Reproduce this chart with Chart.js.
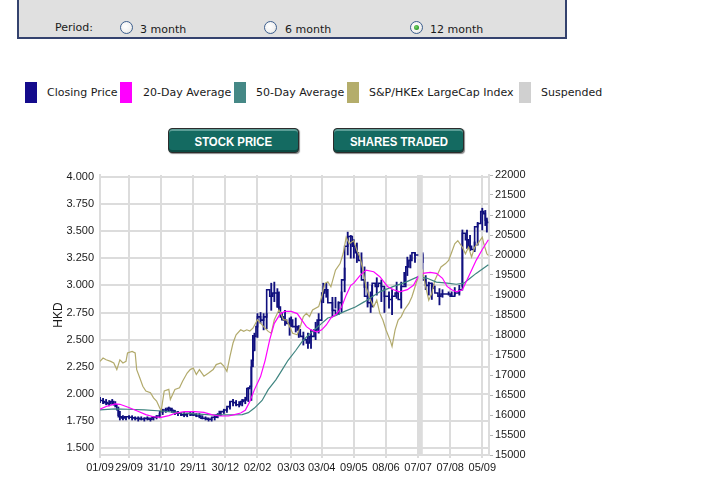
<!DOCTYPE html>
<html>
<head>
<meta charset="utf-8">
<script src="https://cdn.jsdelivr.net/npm/chart.js@4.4.0/dist/chart.umd.min.js"></script>
<style>
  html,body{margin:0;padding:0;background:#fff;}
  body{width:727px;height:495px;overflow:hidden;position:relative;font-family:"DejaVu Sans",Verdana,sans-serif;font-size:11px;color:#1a1a1a;}
  .abs{position:absolute;white-space:nowrap;line-height:13px;}
  #panel{position:absolute;left:17px;top:-4px;width:546px;height:39px;background:#e0e0e0;border:2px solid #34426e;}
  .radio{position:absolute;width:11px;height:11px;border-radius:50%;border:1px solid #3d5f8f;background:radial-gradient(circle at 40% 40%,#ffffff 0%,#f2f2f2 55%,#d6d6d0 100%);}
  .radio.on::after{content:"";position:absolute;left:3px;top:3px;width:5px;height:5px;border-radius:50%;background:radial-gradient(circle at 40% 40%,#7ad36a 0%,#2a9a2a 70%,#1f7d1f 100%);}
  .sw{position:absolute;top:82px;width:12px;height:21px;}
  .btn{position:absolute;top:128px;width:129px;height:23px;background:#146a61;border:1px solid #2c2c2c;border-radius:4px;
       box-shadow:inset 0 2px 0 #5c9d96, inset 0 -2px 0 #0b4a43, 1px 1px 1px #8a8a8a;color:#fff;text-align:center;
       font-family:"Liberation Sans",Arial,sans-serif;font-weight:bold;font-size:13px;line-height:26px;}
  .btn span{display:inline-block;transform:scaleX(0.875);transform-origin:center;}
  #c{position:absolute;left:40px;top:160px;}
</style>
</head>
<body>
<div id="panel"></div>
<div class="abs" style="left:55px;top:21px;">Period:</div>
<div class="radio" style="left:120px;top:21px;"></div>
<div class="abs" style="left:140px;top:23px;">3 month</div>
<div class="radio" style="left:264px;top:21px;"></div>
<div class="abs" style="left:285px;top:23px;">6 month</div>
<div class="radio on" style="left:410px;top:21px;"></div>
<div class="abs" style="left:430px;top:23px;">12 month</div>

<div class="sw" style="left:25px;background:#140b8c;"></div>
<div class="abs" style="left:47px;top:86px;">Closing Price</div>
<div class="sw" style="left:120px;background:#ff00ff;"></div>
<div class="abs" style="left:143px;top:86px;">20-Day Average</div>
<div class="sw" style="left:234px;background:#458886;"></div>
<div class="abs" style="left:256px;top:86px;">50-Day Average</div>
<div class="sw" style="left:347px;background:#b4ad6b;"></div>
<div class="abs" style="left:369px;top:86px;">S&amp;P/HKEx LargeCap Index</div>
<div class="sw" style="left:519px;background:#d0d0d0;"></div>
<div class="abs" style="left:541px;top:86px;">Suspended</div>

<div class="btn" style="left:168px;"><span>STOCK PRICE</span></div>
<div class="btn" style="left:333px;"><span>SHARES TRADED</span></div>

<canvas id="c" width="520" height="320"></canvas>

<script>
// ---- data (x = trading-day index from 01/09) ----
const tickDays   = [0, 19, 40, 61, 82, 103, 125, 145, 166, 187, 208, 229, 250];
const tickLabels = ['01/09','29/09','31/10','29/11','30/12','02/02','03/03','03/04','09/05','08/06','07/07','07/08','05/09'];
const priceTicks = [1.5, 1.75, 2.0, 2.25, 2.5, 2.75, 3.0, 3.25, 3.5, 3.75, 4.0];
const indexTicks = [15000,15500,16000,16500,17000,17500,18000,18500,19000,19500,20000,20500,21000,21500,22000];
const suspendedDays = [208.2, 211.1];

// closing price [day, close]
const closingPrice = [[0,1.95],[2,1.94],[3,1.93],[5,1.92],[7,1.91],[9,1.93],[11,1.90],[12,1.855],[14,1.79],[16,1.78],
  [19,1.79],[21,1.785],[23,1.78],[26,1.775],[29,1.77],[32,1.775],[34,1.767],[37,1.785],[39,1.797],[41,1.837],
  [44,1.852],[46,1.868],[48,1.85],[50,1.83],[53,1.822],[57,1.807],[60,1.82],[63,1.807],[66,1.797],[70,1.777],
  [73,1.767],[76,1.785],[78,1.807],[81,1.837],[83,1.852],[85,1.883],[87,1.93],[89,1.92],[92,1.90],[94,1.93],
  [96,1.944],[98,2.05],[99,2.07],[100,2.31],[101,2.40],[102,2.53],[103,2.62],[105,2.71],[107,2.68],[109,2.71],
  [111,2.96],[113,2.90],[116,2.93],[118,2.80],[120,2.71],[122,2.68],[124,2.65],[126,2.68],[129,2.62],[131,2.59],
  [133,2.53],[135,2.50],[137,2.47],[140,2.53],[142,2.59],[145,2.68],[147,2.93],[149,2.96],[152,2.84],[154,2.77],
  [156,2.74],[158,2.84],[160,3.05],[162,3.36],[165,3.45],[167,3.36],[169,3.30],[171,3.23],[173,3.05],[175,2.90],
  [178,2.84],[180,3.02],[182,2.99],[184,3.02],[186,2.99],[189,2.90],[191,2.87],[193,2.90],[195,2.93],[197,2.87],
  [200,2.99],[202,3.17],[204,3.23],[206,3.30],[208,3.28],[211,3.28],[213,3.05],[215,3.00],[217,3.02],[219,2.99],
  [221,2.93],[223,2.90],[226,2.92],[229,2.92],[232,2.90],[235,2.93],[237,2.96],[239,3.48],[241,3.42],[243,3.36],
  [245,3.33],[247,3.54],[249,3.57],[251,3.68],[252,3.66],[253,3.60],[254,3.58]];

// daily low-high range [day, low, high]
const dailyRange = [[0,1.92,1.97],[2,1.91,1.96],[4,1.90,1.95],[6,1.89,1.94],[8,1.90,1.95],[10,1.88,1.93],[12,1.80,1.88],
  [13,1.76,1.84],[15,1.76,1.80],[17,1.76,1.79],[19,1.77,1.80],[21,1.76,1.80],[23,1.76,1.79],[25,1.75,1.79],[27,1.76,1.79],
  [29,1.75,1.78],[31,1.76,1.79],[33,1.75,1.78],[35,1.76,1.79],[37,1.77,1.80],[39,1.78,1.82],[41,1.81,1.86],[43,1.83,1.87],
  [45,1.84,1.88],[47,1.83,1.87],[49,1.81,1.85],[51,1.80,1.84],[53,1.80,1.83],[55,1.79,1.83],[57,1.79,1.82],[59,1.80,1.83],
  [61,1.80,1.84],[63,1.79,1.82],[65,1.78,1.82],[67,1.77,1.80],[69,1.76,1.79],[71,1.75,1.78],[73,1.75,1.78],[75,1.76,1.80],
  [77,1.78,1.82],[79,1.80,1.84],[81,1.82,1.86],[83,1.83,1.87],[85,1.86,1.93],[87,1.89,1.95],[89,1.89,1.94],[91,1.88,1.93],
  [93,1.89,1.95],[95,1.91,1.97],[97,1.93,2.06],[99,1.94,2.25],[100,2.25,2.54],[101,2.40,2.56],[103,2.52,2.74],
  [105,2.65,2.75],[107,2.59,2.74],[109,2.60,2.74],[112,2.77,3.02],[114,2.85,3.03],[116,2.80,2.97],[117,2.75,2.94],
  [119,2.68,2.75],[121,2.63,2.77],[124,2.54,2.70],[125,2.62,2.71],[128,2.57,2.70],[130,2.52,2.63],[133,2.45,2.57],
  [136,2.42,2.56],[138,2.42,2.59],[141,2.50,2.66],[143,2.56,2.74],[146,2.84,3.02],[148,2.89,3.02],[152,2.71,2.89],
  [154,2.79,2.89],[156,2.73,2.85],[158,2.75,2.94],[160,2.94,3.16],[162,3.28,3.49],[164,3.25,3.46],[166,3.25,3.42],
  [168,3.21,3.39],[171,3.12,3.30],[173,2.98,3.17],[175,2.80,3.03],[177,2.75,2.94],[178,2.80,3.00],[181,2.91,3.07],
  [184,2.85,3.05],[186,2.75,2.97],[189,2.79,2.94],[191,2.73,2.96],[194,2.88,3.03],[197,2.79,3.03],[199,3.00,3.12],
  [201,3.09,3.26],[203,3.16,3.28],[206,3.21,3.30],[211,3.21,3.30],[213,2.96,3.09],[215,2.91,3.03],[217,2.87,3.02],
  [218,2.97,3.01],[222,2.82,2.97],[224,2.89,2.96],[228,2.91,2.94],[230,2.90,2.94],[232,2.91,2.98],[235,2.91,3.00],
  [237,2.99,3.51],[240,3.34,3.51],[242,3.32,3.46],[245,3.31,3.40],[247,3.37,3.58],[250,3.51,3.71],[252,3.55,3.69],
  [253,3.49,3.62]];

const avg20 = [[0,1.86],[4,1.885],[10,1.908],[13,1.905],[18,1.88],[24,1.845],[30,1.81],[35,1.79],[40,1.785],[45,1.80],
  [50,1.825],[55,1.837],[62,1.837],[68,1.83],[73,1.81],[78,1.797],[84,1.797],[88,1.81],[92,1.825],[95,1.85],
  [98,1.93],[101,2.04],[105,2.16],[108,2.31],[111,2.50],[114,2.65],[118,2.74],[121,2.76],[125,2.76],[129,2.74],
  [132,2.68],[135,2.62],[138,2.59],[142,2.57],[145,2.59],[148,2.635],[151,2.70],[155,2.74],[158,2.80],[161,2.91],
  [164,3.0],[166,3.02],[170,3.09],[174,3.14],[179,3.125],[183,3.08],[188,2.99],[192,2.96],[196,2.94],[201,2.96],
  [205,3.0],[208,3.08],[211,3.11],[216,3.12],[220,3.11],[224,3.065],[227,2.99],[230,2.96],[233,2.94],[237,2.96],
  [240,3.05],[243,3.14],[246,3.23],[250,3.33],[254,3.42]];

const avg50 = [[0,1.853],[10,1.862],[18,1.859],[29,1.853],[40,1.843],[51,1.828],[62,1.816],[73,1.807],[84,1.807],[93,1.81],
  [97,1.828],[101,1.87],[106,1.94],[110,2.04],[115,2.13],[119,2.22],[123,2.31],[128,2.40],[132,2.48],[136,2.54],
  [141,2.60],[145,2.65],[149,2.70],[154,2.72],[160,2.76],[167,2.80],[173,2.85],[183,2.94],[192,2.99],[200,3.03],
  [208,3.08],[214,3.065],[220,3.03],[227,3.02],[233,3.01],[238,3.02],[242,3.065],[246,3.11],[254,3.19]];

const largeCapIndex = [[0,17340],[2,17425],[4,17380],[7,17340],[9,17300],[11,17135],[13,17380],[15,17300],[17,17340],[18,17550],
  [21,17590],[23,17550],[24,17135],[26,16930],[28,16720],[30,16600],[33,16555],[35,16430],[37,16350],[39,16180],
  [40,16100],[42,16600],[45,16640],[46,16390],[49,16640],[52,16680],[54,16845],[57,17050],[59,17135],[61,17175],
  [63,17010],[65,17135],[68,16970],[71,17050],[74,17135],[76,17260],[79,17300],[81,17220],[83,17090],[85,17465],
  [87,17800],[89,18005],[92,18130],[94,18090],[96,18130],[98,18100],[100,18170],[103,18380],[107,18210],[110,18090],
  [112,18045],[114,18380],[117,18625],[118,18560],[120,18380],[122,18380],[124,18210],[126,18045],[129,18005],[131,18210],
  [133,18460],[135,18540],[137,18460],[139,18625],[143,18710],[145,18955],[147,19290],[149,19330],[151,19205],[154,19620],
  [157,19785],[159,20030],[161,20445],[163,20280],[166,20360],[168,20110],[170,19950],[172,19620],[174,19200],[177,18870],
  [179,18705],[181,18870],[183,18540],[185,18375],[187,18130],[190,17840],[191,17715],[193,18130],[195,18375],[197,18460],
  [199,18625],[202,18790],[204,18955],[206,19200],[207,19330],[211,19620],[213,19200],[215,18870],[217,19040],[219,19370],
  [221,19535],[223,19700],[226,19785],[228,19865],[230,20070],[232,20280],[234,20360],[237,20195],[239,20030],[241,20195],
  [243,19950],[245,20195],[247,20280],[250,20445],[251,20280],[253,20030],[254,19990]];

const toPts = arr => arr.map(([x, y]) => ({x, y}));
const toRange = arr => arr.map(([x, lo, hi]) => ({x, y: [lo, hi]}));

const GRID = '#dcdcdc';
const NAVY = '#10107e';
Chart.defaults.font.family = '"Liberation Sans", Arial, sans-serif';
Chart.defaults.font.size = 11;
Chart.defaults.color = '#1a1a1a';

const suspendedBand = {
  id: 'suspendedBand',
  afterDatasetsDraw(chart) {
    const {ctx, chartArea, scales} = chart;
    const x0 = scales.x.getPixelForValue(suspendedDays[0]);
    const x1 = scales.x.getPixelForValue(suspendedDays[1]);
    ctx.save();
    ctx.fillStyle = '#dcdcdc';
    ctx.fillRect(x0, chartArea.top, x1 - x0, chartArea.bottom - chartArea.top);
    ctx.restore();
  }
};

new Chart(document.getElementById('c'), {
  type: 'line',
  data: {
    datasets: [
      {label: '20-Day Average', data: toPts(avg20), yAxisID: 'y', borderColor: '#ff00ff', borderWidth: 1.2, order: 1},
      {label: '50-Day Average', data: toPts(avg50), yAxisID: 'y', borderColor: '#3f8580', borderWidth: 1.2, order: 2},
      {label: 'S&P/HKEx LargeCap Index', data: toPts(largeCapIndex), yAxisID: 'y1', borderColor: '#b2aa6c', borderWidth: 1.2, order: 3},
      {label: 'Closing Price', data: toPts(closingPrice), yAxisID: 'y', borderColor: NAVY, borderWidth: 1.6, stepped: 'after', order: 4},
      {type: 'bar', label: 'Range', data: toRange(dailyRange), yAxisID: 'y', backgroundColor: NAVY, borderWidth: 0,
       barThickness: 1.2, grouped: false, order: 5}
    ]
  },
  options: {
    responsive: false,
    animation: false,
    layout: {padding: {left: 7, top: 15, right: 0, bottom: 0}},
    elements: {point: {radius: 0}, line: {tension: 0, fill: false}},
    plugins: {legend: {display: false}, tooltip: {enabled: false}},
    scales: {
      x: {
        type: 'linear', min: 0, max: 254.4, offset: false,
        afterBuildTicks: s => { s.ticks = tickDays.map(v => ({value: v})); },
        afterFit: s => { s.height = 25; },
        ticks: {autoSkip: false, maxRotation: 0, padding: 3,
          callback: v => { const i = tickDays.indexOf(v); return i >= 0 ? tickLabels[i] : ''; }},
        grid: {color: GRID, lineWidth: 2, tickLength: 3, offset: false},
        border: {color: GRID, width: 2}
      },
      y: {
        position: 'left', min: 1.438, max: 4.016,
        afterBuildTicks: s => { s.ticks = priceTicks.map(v => ({value: v})); },
        afterFit: s => { s.width = 53; },
        ticks: {padding: 6, callback: v => Number(v).toFixed(3)},
        grid: {color: GRID, lineWidth: 2, drawTicks: false},
        border: {color: GRID, width: 2},
        title: {display: true, text: 'HKD', font: {size: 12}, padding: {top: 4, bottom: 4}}
      },
      y1: {
        position: 'right', min: 15000, max: 22000,
        afterBuildTicks: s => { s.ticks = indexTicks.map(v => ({value: v})); },
        afterFit: s => { s.width = 71; },
        ticks: {padding: 2, callback: v => String(v)},
        grid: {drawOnChartArea: false, color: '#b8b8b8', tickLength: 4},
        border: {color: GRID, width: 2}
      }
    }
  },
  plugins: [suspendedBand]
});
</script>
</body>
</html>
